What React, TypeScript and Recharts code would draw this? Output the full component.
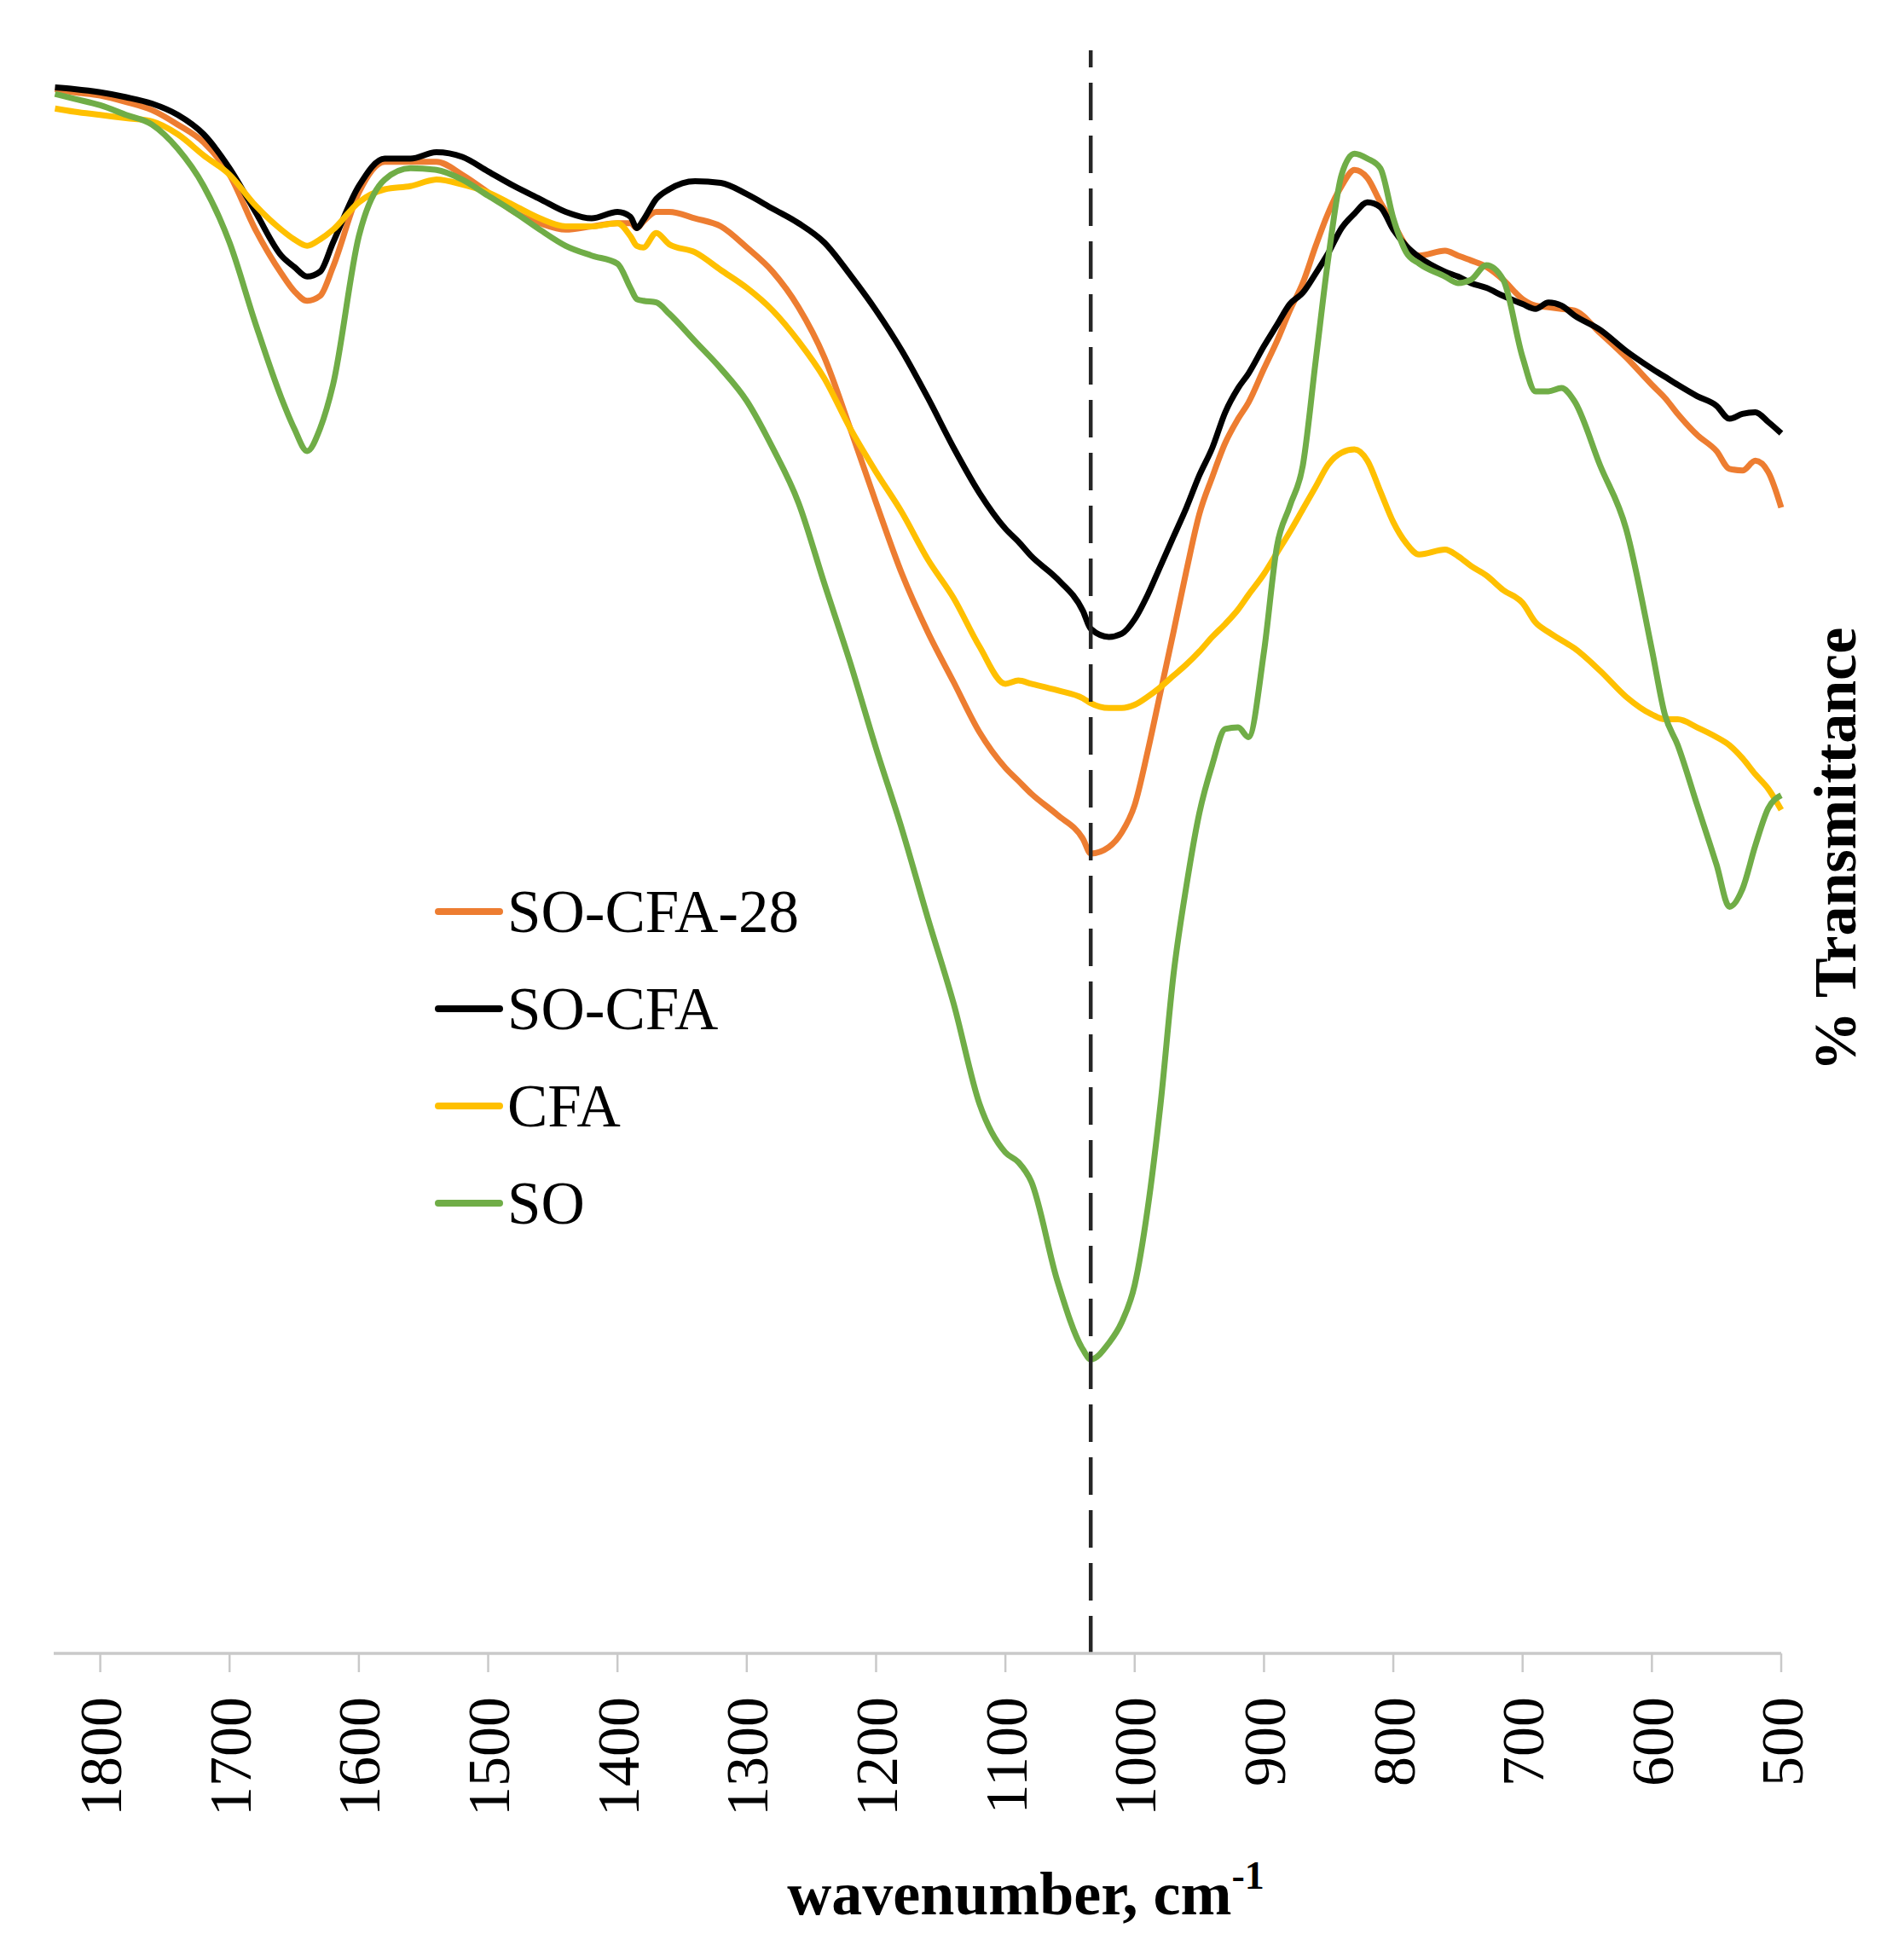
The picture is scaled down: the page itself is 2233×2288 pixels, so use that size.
import { LineChart, Line, XAxis, YAxis, Legend, ReferenceLine } from "recharts";

// wavenumber grid (cm-1)
const WAVENUMBERS = [
  1835, 1820, 1800, 1780, 1760, 1740, 1720, 1700, 1680, 1660,
  1650, 1640, 1630, 1620, 1600, 1580, 1560, 1540, 1520, 1500,
  1480, 1460, 1440, 1420, 1400, 1390, 1385, 1380, 1370, 1360,
  1340, 1320, 1300, 1280, 1260, 1240, 1220, 1200, 1180, 1160,
  1140, 1120, 1100, 1090, 1080, 1060, 1040, 1034, 1020, 1010,
  1000, 990, 980, 970, 960, 950, 940, 930, 920, 912,
  900, 890, 880, 870, 860, 850, 840, 830, 820, 810,
  800, 790, 780, 760, 750, 740, 728, 715, 700, 690,
  680, 670, 660, 640, 620, 600, 590, 580, 565, 550,
  540, 530, 520, 510, 500,
];

const SO_CFA_28 = [
  96.8, 96.6, 96.4, 96.0, 95.5, 94.6, 93.5, 91.5, 88.1, 85.4,
  84.3, 83.7, 84.0, 85.8, 90.4, 92.3, 92.3, 92.3, 91.5, 90.4,
  89.2, 88.5, 88.1, 88.3, 88.5, 88.5, 88.2, 88.6, 89.2, 89.2,
  88.8, 88.3, 87.0, 85.5, 83.3, 80.2, 75.8, 71.2, 66.8, 63.2,
  60.1, 57.0, 54.8, 54.0, 53.2, 51.9, 50.4, 49.5, 49.9, 50.8,
  52.5, 55.8, 59.5, 63.2, 67.0, 70.5, 72.8, 74.9, 76.4, 77.4,
  79.5, 81.2, 83.1, 84.8, 87.1, 89.2, 90.8, 91.8, 91.3, 89.8,
  88.5, 87.1, 86.5, 86.8, 86.5, 86.2, 85.8, 85.0, 83.8, 83.4,
  83.3, 83.2, 83.1, 81.7, 80.2, 78.5, 77.7, 76.7, 75.4, 74.4,
  73.3, 73.2, 73.8, 73.1, 70.9,
];

const SO_CFA = [
  96.9, 96.8, 96.6, 96.3, 95.9, 95.2, 94.0, 91.9, 89.2, 86.5,
  85.8, 85.2, 85.5, 87.3, 90.8, 92.5, 92.5, 92.9, 92.6, 91.7,
  90.8, 90.0, 89.2, 88.8, 89.2, 88.9, 88.2, 88.7, 90.0, 90.6,
  91.1, 91.0, 90.3, 89.4, 88.5, 87.3, 85.3, 83.1, 80.6, 77.7,
  74.6, 71.8, 69.6, 68.8, 67.9, 66.5, 64.5, 63.4, 62.9, 63.1,
  64.0, 65.5, 67.3, 69.1, 70.9, 72.9, 74.6, 76.8, 78.3, 79.2,
  80.9, 82.2, 83.5, 84.2, 85.4, 86.7, 88.2, 89.1, 89.8, 89.5,
  88.1, 87.1, 86.4, 85.5, 85.2, 84.8, 84.5, 84.0, 83.5, 83.2,
  83.6, 83.4, 82.8, 81.9, 80.6, 79.5, 79.0, 78.5, 77.8, 77.2,
  76.4, 76.7, 76.8, 76.2, 75.5,
];

const CFA = [
  95.6, 95.4, 95.2, 95.0, 94.8, 94.0, 92.7, 91.5, 89.6, 88.1,
  87.5, 87.1, 87.5, 88.1, 89.8, 90.6, 90.8, 91.2, 90.9, 90.4,
  89.6, 88.8, 88.3, 88.3, 88.5, 87.7, 87.1, 87.0, 87.9, 87.2,
  86.7, 85.6, 84.5, 83.1, 81.2, 78.9, 75.8, 73.1, 70.6, 67.7,
  65.3, 62.3, 60.0, 60.2, 60.0, 59.6, 59.1, 58.8, 58.5, 58.5,
  58.7, 59.2, 59.8, 60.5, 61.2, 62.0, 62.9, 63.7, 64.6, 65.5,
  66.8, 68.1, 69.4, 70.8, 72.2, 73.6, 74.3, 74.5, 73.8, 71.9,
  70.0, 68.7, 68.0, 68.3, 67.9, 67.3, 66.7, 65.8, 65.0, 63.8,
  63.2, 62.7, 62.2, 60.8, 59.2, 58.1, 57.8, 57.8, 57.3, 56.7,
  56.2, 55.4, 54.4, 53.5, 52.2,
];

const SO = [
  96.5, 96.2, 95.8, 95.2, 94.6, 93.1, 90.8, 87.3, 82.3, 77.7,
  75.8, 74.4, 75.8, 78.5, 87.7, 91.2, 91.9, 91.8, 91.2, 90.2,
  89.2, 88.1, 87.1, 86.5, 86.0, 84.5, 83.8, 83.7, 83.6, 82.9,
  81.2, 79.5, 77.5, 74.6, 71.2, 66.2, 61.3, 56.0, 51.0, 45.5,
  40.2, 34.0, 31.0, 30.4, 29.2, 23.1, 18.8, 18.2, 19.2, 20.5,
  22.8, 27.5, 34.0, 42.0, 47.5, 52.0, 55.0, 57.2, 57.3, 56.7,
  62.0, 68.5, 71.0, 73.5, 80.0, 86.5, 91.5, 92.8, 92.5, 91.9,
  88.8, 86.7, 86.0, 85.2, 84.8, 85.0, 85.9, 85.0, 80.2, 78.1,
  78.1, 78.3, 77.5, 73.5, 69.6, 62.1, 58.1, 56.2, 52.5, 48.8,
  46.2, 47.3, 50.0, 52.3, 53.1,
];

const X_TICKS = [1800, 1700, 1600, 1500, 1400, 1300, 1200, 1100, 1000, 900, 800, 700, 600, 500];
const BAND = 1034; // dashed marker, Si-O-Si band

const SERIES = [
  { key: "soCfa28", name: "SO-CFA-28", color: "#ED7D31", values: SO_CFA_28 },
  { key: "soCfa", name: "SO-CFA", color: "#000000", values: SO_CFA },
  { key: "cfa", name: "CFA", color: "#FFC000", values: CFA },
  { key: "so", name: "SO", color: "#70AD47", values: SO },
];

const rows = WAVENUMBERS.map((w, i) => {
  const row: Record<string, number> = { w };
  SERIES.forEach((s) => {
    row[s.key] = s.values[i];
  });
  return row;
});

const FONT = '"Liberation Serif", "DejaVu Serif", serif';

function WaveTick({ x, y, payload }: any) {
  return (
    <text
      x={x}
      y={y}
      transform={`rotate(-90, ${x}, ${y})`}
      textAnchor="end"
      dy="0.35em"
      fontSize={70}
      fontFamily={FONT}
      fill="#000"
    >
      {payload.value}
    </text>
  );
}

function LegendBox() {
  return (
    <div style={{ fontFamily: FONT, fontSize: 71, color: "#000" }}>
      {SERIES.map((s) => (
        <div key={s.key} style={{ display: "flex", alignItems: "center", height: 114 }}>
          <span
            style={{
              display: "inline-block",
              width: 80,
              height: 8,
              borderRadius: 4,
              background: s.color,
              marginRight: 5,
            }}
          />
          <span style={{ lineHeight: 1 }}>{s.name}</span>
        </div>
      ))}
    </div>
  );
}

export default function App() {
  return (
    <div style={{ position: "absolute", left: 0, top: 0, width: 2233, height: 2288, background: "#fff" }}>
      <LineChart
        width={2233}
        height={2288}
        data={rows}
        margin={{ top: 59, right: 0, bottom: 49, left: 63 }}
      >
        <XAxis
          dataKey="w"
          type="number"
          domain={[500, 1836]}
          reversed
          ticks={X_TICKS}
          interval={0}
          height={300}
          tickSize={22}
          tickMargin={29}
          axisLine={{ stroke: "#C9C9C9", strokeWidth: 3.5 }}
          tickLine={{ stroke: "#C9C9C9", strokeWidth: 2.5 }}
          tick={<WaveTick />}
          label={{
            content: (props: any) => {
              const vb = props.viewBox || { x: 63, y: 1939 };
              return (
                <text
                  x={vb.x + 1140}
                  y={vb.y + 306}
                  textAnchor="middle"
                  fontFamily={FONT}
                  fontWeight="bold"
                  fontSize={72}
                  fill="#000"
                >
                  wavenumber, cm
                  <tspan dy={-30} fontSize={46}>-1</tspan>
                </text>
              );
            },
          }}
        />
        <YAxis
          orientation="right"
          domain={[0, 99.2]}
          width={144}
          tick={false}
          axisLine={false}
          tickLine={false}
          label={{
            content: (props: any) => {
              const vb = props.viewBox || { x: 2089, y: 59, height: 1880 };
              const cx = vb.x + 63;
              const cy = vb.y + vb.height / 2 - 3;
              return (
                <text
                  x={cx}
                  y={cy}
                  transform={`rotate(-90, ${cx}, ${cy})`}
                  textAnchor="middle"
                  dominantBaseline="central"
                  fontFamily={FONT}
                  fontWeight="bold"
                  fontSize={70}
                  fill="#000"
                >
                  % Transmittance
                </text>
              );
            },
          }}
        />
        <Legend
          layout="vertical"
          align="center"
          verticalAlign="middle"
          wrapperStyle={{ left: 510, top: 1012, width: 700 }}
          content={() => <LegendBox />}
        />
        {SERIES.map((s) => (
          <Line
            key={s.key}
            type="monotone"
            dataKey={s.key}
            name={s.name}
            stroke={s.color}
            strokeWidth={7}
            strokeLinejoin="round"
            dot={false}
            activeDot={false}
            isAnimationActive={false}
          />
        ))}
        <ReferenceLine x={BAND} stroke="#262626" strokeWidth={4.5} strokeDasharray="44 18" />
      </LineChart>
    </div>
  );
}
